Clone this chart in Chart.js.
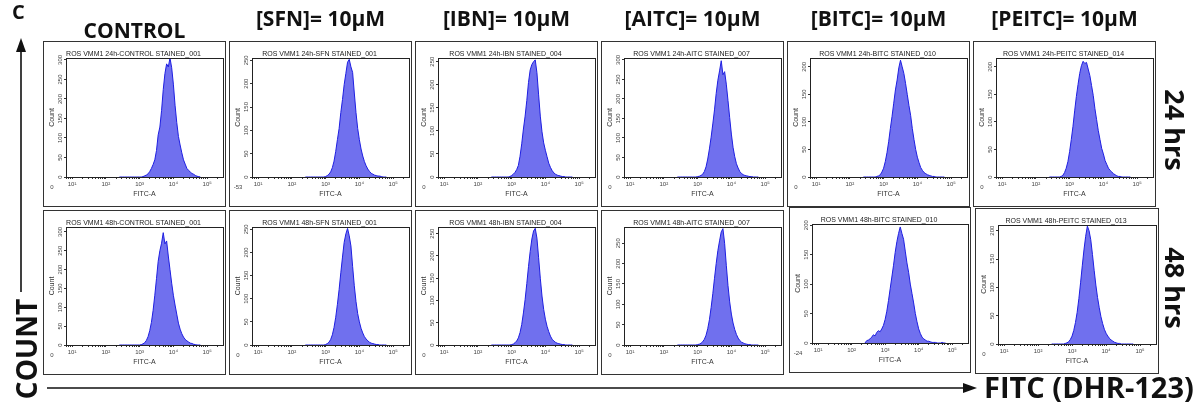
<!DOCTYPE html>
<html>
<head>
<meta charset="utf-8">
<script src="https://cdn.jsdelivr.net/npm/chart.js@4.4.1/dist/chart.umd.min.js"></script>
<style>
  body { margin: 0; width: 1200px; height: 407px; background: #fff; position: relative; overflow: hidden; }
  #figure { position: absolute; left: 0; top: 0; }
  .panel { position: absolute; box-sizing: border-box; border: 1px solid #333; background: #fff; }
  .panel canvas { display: block; }
</style>
</head>
<body>
<canvas id="figure" width="1200" height="407"></canvas>
<div id="panels"></div>
<script>
// log10(FITC-A) bin centres shared by every histogram
const fitcLog = [2.40, 2.45, 2.50, 2.55, 2.60, 2.65, 2.70, 2.75, 2.80, 2.85, 2.90, 2.95, 3.00, 3.05, 3.10, 3.15,
    3.20, 3.25, 3.30, 3.35, 3.40, 3.45, 3.50, 3.55, 3.60, 3.65, 3.70, 3.75, 3.80, 3.85, 3.90, 3.95, 4.00, 4.05,
    4.10, 4.15, 4.20, 4.25, 4.30, 4.35, 4.40, 4.45, 4.50, 4.55, 4.60, 4.65, 4.70, 4.75, 4.80];

const decadeLabels = ['10¹', '10²', '10³', '10⁴', '10⁵'];
const countTicks = [0, 50, 100, 150, 200, 250, 300];

const treatments = ['CONTROL', '[SFN]= 10μM', '[IBN]= 10μM', '[AITC]= 10μM', '[BITC]= 10μM', '[PEITC]= 10μM'];
const timepoints = ['24 hrs', '48 hrs'];

const sampleNames = [
    'ROS VMM1 24h-CONTROL STAINED_001', 'ROS VMM1 24h-SFN STAINED_001', 'ROS VMM1 24h-IBN STAINED_004',
    'ROS VMM1 24h-AITC STAINED_007', 'ROS VMM1 24h-BITC STAINED_010', 'ROS VMM1 24h-PEITC STAINED_014',
    'ROS VMM1 48h-CONTROL STAINED_001', 'ROS VMM1 48h-SFN STAINED_001', 'ROS VMM1 48h-IBN STAINED_004',
    'ROS VMM1 48h-AITC STAINED_007', 'ROS VMM1 48h-BITC STAINED_010', 'ROS VMM1 48h-PEITC STAINED_013'
];
const lowLabels = ['0', '-53', '0', '0', '0', '0', '0', '0', '0', '0', '-24', '0'];
const countMax = [305, 255, 258, 305, 216, 216, 313, 255, 265, 290, 202, 210];

// cell counts per bin
const ctrl24 = [0, 0, 0, 0, 0, 0, 0, 0, 0, 0, 0, 0, 0, 0, 1, 3, 5, 8, 14, 22, 32, 44, 68, 108, 128, 170, 224, 265,
    290, 282, 305, 280, 238, 184, 140, 104, 82, 62, 44, 33, 22, 17, 13, 9, 7, 4, 2, 1, 0];
const sfn24 = [0, 0, 0, 0, 0, 0, 0, 0, 0, 0, 0, 0, 1, 3, 6, 11, 20, 34, 55, 80, 104, 138, 166, 198, 222, 246, 252,
    236, 224, 180, 138, 104, 80, 60, 45, 33, 24, 17, 12, 8, 6, 4, 3, 2, 2, 1, 0, 0, 0];
const ibn24 = [0, 0, 0, 0, 0, 0, 0, 0, 0, 0, 0, 1, 3, 6, 10, 16, 25, 45, 72, 104, 132, 166, 205, 232, 244, 250, 254,
    226, 178, 132, 98, 74, 58, 44, 30, 21, 14, 9, 6, 4, 3, 2, 1, 1, 0, 0, 0, 0, 0];
const aitc24 = [0, 0, 0, 0, 0, 0, 0, 0, 0, 0, 0, 0, 1, 2, 4, 7, 14, 26, 46, 72, 102, 136, 172, 214, 248, 272, 298,
    262, 270, 238, 196, 152, 110, 76, 52, 34, 23, 14, 9, 6, 4, 3, 2, 1, 1, 0, 0, 0, 0];
const bitc24 = [0, 0, 0, 0, 0, 0, 0, 0, 1, 2, 4, 9, 16, 28, 44, 64, 88, 110, 134, 158, 176, 198, 212, 200, 188, 170,
    150, 130, 112, 88, 68, 50, 36, 26, 17, 12, 8, 6, 4, 3, 2, 1, 1, 0, 0, 0, 0, 0, 0];
const peitc24 = [0, 0, 0, 0, 0, 0, 0, 1, 3, 8, 16, 28, 46, 68, 92, 120, 146, 168, 188, 202, 210, 206, 208, 196, 184,
    166, 148, 124, 104, 84, 68, 52, 42, 30, 23, 16, 12, 9, 6, 4, 2, 1, 1, 0, 0, 0, 0, 0, 0];
const ctrl48 = [0, 0, 0, 0, 0, 0, 0, 0, 0, 0, 0, 0, 0, 1, 3, 6, 12, 22, 38, 60, 92, 132, 176, 222, 250, 270, 298,
    268, 276, 236, 200, 164, 132, 106, 82, 58, 42, 30, 21, 15, 11, 8, 5, 4, 2, 1, 0, 0, 0];
const sfn48 = [0, 0, 0, 0, 0, 0, 0, 0, 0, 0, 0, 0, 1, 3, 6, 12, 22, 38, 60, 88, 120, 156, 190, 222, 240, 252, 236,
    214, 170, 128, 94, 68, 50, 36, 26, 18, 13, 9, 6, 4, 3, 2, 1, 1, 0, 0, 0, 0, 0];
const ibn48 = [0, 0, 0, 0, 0, 0, 0, 0, 0, 0, 0, 0, 1, 2, 5, 9, 16, 28, 46, 72, 102, 138, 176, 210, 238, 256, 262,
    240, 196, 150, 110, 80, 58, 42, 30, 20, 13, 9, 6, 4, 3, 2, 1, 1, 0, 0, 0, 0, 0];
const aitc48 = [0, 0, 0, 0, 0, 0, 0, 0, 0, 0, 0, 0, 1, 2, 4, 8, 14, 24, 40, 62, 92, 126, 164, 200, 232, 256, 278,
    286, 250, 196, 146, 106, 76, 54, 38, 26, 17, 11, 7, 5, 3, 2, 1, 1, 0, 0, 0, 0, 0];
const bitc48 = [0, 4, 5, 7, 10, 14, 12, 18, 21, 19, 24, 30, 40, 54, 72, 92, 112, 132, 154, 172, 186, 197, 186, 176,
    156, 136, 120, 100, 84, 68, 50, 36, 24, 16, 10, 7, 5, 3, 3, 2, 1, 1, 1, 0, 0, 0, 1, 0, 0];
const peitc48 = [0, 0, 0, 0, 0, 0, 0, 0, 1, 2, 4, 8, 14, 24, 38, 56, 80, 108, 138, 166, 190, 208, 200, 184, 158, 130,
    104, 82, 64, 48, 36, 26, 19, 14, 10, 7, 5, 3, 2, 1, 1, 0, 0, 0, 0, 0, 0, 0, 0];

const histograms = [ctrl24, sfn24, ibn24, aitc24, bitc24, peitc24, ctrl48, sfn48, ibn48, aitc48, bitc48, peitc48];

// panel boxes: left, top, width, height
const panelBoxes = [
    [43, 41, 183, 166], [229, 41, 183, 166], [415, 41, 183, 166],
    [601, 41, 183, 166], [787, 41, 183, 166], [973, 41, 183, 166],
    [43, 210, 183, 165], [229, 210, 183, 165], [415, 210, 183, 165],
    [601, 210, 183, 165], [789, 207, 182, 166], [975, 208, 184, 166]
];

const smallFont = '"Liberation Sans", Arial, sans-serif';
const bigFont = '"Open Sans", "Noto Sans", sans-serif';

Chart.defaults.font.family = smallFont;
Chart.defaults.color = '#333';

// decade + minor tick positions on the log axis
function buildLogTicks(min, max) {
    const ticks = [];
    for (let d = 0; d <= 5; d++) {
        for (let k = 1; k <= 9; k++) {
            const v = d + Math.log10(k);
            if (v >= min && v <= max) ticks.push({ value: v });
        }
    }
    return ticks;
}

// box around the plot area, rotated count labels and the low end label
const framePlugin = {
    id: 'frame',
    afterDraw(chart, args, opts) {
        const { ctx, chartArea: a, scales: { y } } = chart;
        ctx.save();
        ctx.strokeStyle = '#222';
        ctx.lineWidth = 1;
        ctx.strokeRect(Math.round(a.left) + 0.5, Math.round(a.top) + 0.5,
            Math.round(a.right - a.left), Math.round(a.bottom - a.top));

        ctx.fillStyle = '#444';
        ctx.font = `6px ${smallFont}`;
        ctx.textAlign = 'center';
        ctx.textBaseline = 'middle';
        y.ticks.forEach((t) => {
            ctx.save();
            ctx.translate(a.left - 6, y.getPixelForValue(t.value));
            ctx.rotate(-Math.PI / 2);
            ctx.fillText(String(t.value), 0, 0);
            ctx.restore();
        });
        ctx.fillText(opts.lowLabel, a.left - 14, a.bottom + 10);
        ctx.restore();
    }
};

function createPanel(index) {
    const [left, top, w, h] = panelBoxes[index];
    const box = document.createElement('div');
    box.className = 'panel';
    box.style.left = left + 'px';
    box.style.top = top + 'px';
    box.style.width = w + 'px';
    box.style.height = h + 'px';
    const canvas = document.createElement('canvas');
    canvas.width = w - 2;
    canvas.height = h - 2;
    box.appendChild(canvas);
    document.getElementById('panels').appendChild(box);
    return canvas;
}

function renderHistogram(index) {
    const canvas = createPanel(index);
    const counts = histograms[index];
    const points = counts.map((c, i) => ({ x: fitcLog[i], y: c }));

    new Chart(canvas.getContext('2d'), {
        type: 'line',
        data: {
            datasets: [{
                data: points,
                borderColor: 'rgb(30, 30, 225)',
                backgroundColor: 'rgb(112, 112, 238)',
                borderWidth: 1,
                fill: 'origin',
                pointRadius: 0,
                tension: 0,
            }],
        },
        options: {
            responsive: false,
            animation: false,
            devicePixelRatio: 1,
            layout: { padding: { left: 0, right: 2, top: 0, bottom: 0 } },
            plugins: {
                legend: { display: false },
                tooltip: { enabled: false },
                title: {
                    display: true,
                    text: sampleNames[index],
                    color: '#222',
                    font: { family: smallFont, size: 7, weight: 'normal', lineHeight: 1 },
                    padding: { top: 9, bottom: 0 },
                },
                frame: { lowLabel: lowLabels[index] },
            },
            scales: {
                x: {
                    type: 'linear',
                    min: 0.82,
                    max: 5.47,
                    afterBuildTicks: (scale) => { scale.ticks = buildLogTicks(0.82, 5.47); },
                    afterFit: (scale) => { scale.height = 29; },
                    ticks: {
                        autoSkip: false,
                        maxRotation: 0,
                        padding: 2,
                        color: '#444',
                        font: { size: 6 },
                        callback: (v) => Number.isInteger(v) ? decadeLabels[v - 1] : '',
                    },
                    grid: { drawOnChartArea: false, tickLength: 2, color: '#333' },
                    border: { color: '#222' },
                    title: {
                        display: true,
                        text: 'FITC-A',
                        color: '#333',
                        font: { size: 7, lineHeight: 1 },
                        padding: { top: 0, bottom: 8 },
                    },
                },
                y: {
                    min: 0,
                    max: countMax[index],
                    afterBuildTicks: (scale) => {
                        scale.ticks = countTicks.filter(v => v <= scale.max).map(v => ({ value: v }));
                    },
                    afterFit: (scale) => { scale.width = 22; },
                    ticks: { display: false },
                    grid: { drawOnChartArea: false, tickLength: 2, color: '#333' },
                    border: { color: '#222' },
                    title: {
                        display: true,
                        text: 'Count',
                        color: '#333',
                        font: { size: 7, lineHeight: 1 },
                        padding: { top: 5, bottom: 0 },
                    },
                },
            },
        },
        plugins: [framePlugin],
    });
}

// headings, row labels and the two axis arrows
function drawFigureLabels() {
    const ctx = document.getElementById('figure').getContext('2d');
    ctx.fillStyle = '#111';
    ctx.strokeStyle = '#111';

    ctx.font = `bold 20px ${bigFont}`;
    ctx.textAlign = 'left';
    ctx.textBaseline = 'alphabetic';
    ctx.fillText('C', 12, 19);

    ctx.font = `bold 21px ${bigFont}`;
    ctx.textAlign = 'center';
    treatments.forEach((name, i) => {
        const [left, , w] = panelBoxes[i];
        ctx.fillText(name, left + w / 2, i === 0 ? 38 : 26);
    });

    ctx.font = `bold 27px ${bigFont}`;
    timepoints.forEach((label, i) => {
        ctx.save();
        ctx.translate(1165, i === 0 ? 130 : 288);
        ctx.rotate(Math.PI / 2);
        ctx.textAlign = 'center';
        ctx.fillText(label, 0, 0);
        ctx.restore();
    });

    ctx.save();
    ctx.font = `bold 28px ${bigFont}`;
    ctx.translate(37, 349);
    ctx.rotate(-Math.PI / 2);
    ctx.textAlign = 'center';
    ctx.fillText('COUNT', 0, 0);
    ctx.restore();

    ctx.font = `bold 29px ${bigFont}`;
    ctx.textAlign = 'left';
    ctx.fillText('FITC (DHR-123)', 984, 398);

    ctx.lineWidth = 1.6;
    ctx.beginPath();
    ctx.moveTo(21, 292);
    ctx.lineTo(21, 48);
    ctx.moveTo(47, 388);
    ctx.lineTo(966, 388);
    ctx.stroke();

    ctx.beginPath();
    ctx.moveTo(16, 52);
    ctx.lineTo(21, 38);
    ctx.lineTo(26, 52);
    ctx.closePath();
    ctx.fill();

    ctx.beginPath();
    ctx.moveTo(963, 383);
    ctx.lineTo(977, 388);
    ctx.lineTo(963, 393);
    ctx.closePath();
    ctx.fill();
}

document.addEventListener('DOMContentLoaded', function() {
    drawFigureLabels();
    histograms.forEach((h, i) => renderHistogram(i));
});
</script>
</body>
</html>
